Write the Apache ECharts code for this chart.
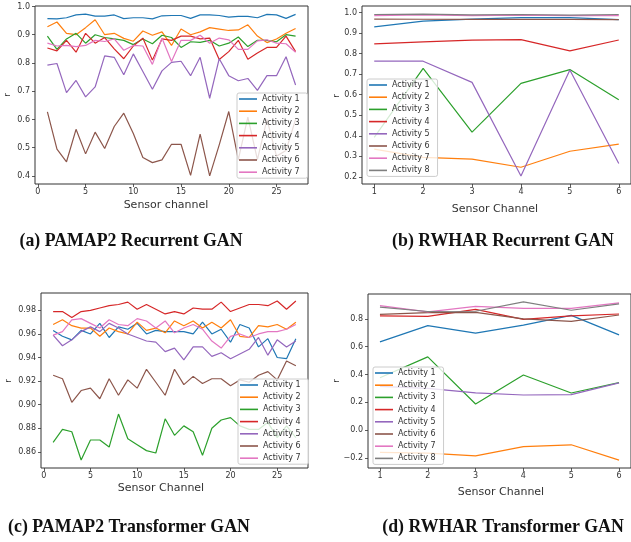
<!DOCTYPE html>
<html>
<head>
<meta charset="utf-8">
<script src="https://cdn.jsdelivr.net/npm/echarts@6/dist/echarts.min.js"></script>
<style>html,body{margin:0;padding:0;background:#fff;}#c{width:631px;height:542px;}</style>
</head>
<body>
<div id="c"></div>
<script>
// ---------- data ----------
const names8 = ['Activity 1','Activity 2','Activity 3','Activity 4','Activity 5','Activity 6','Activity 7','Activity 8'];
const chA = Array.from({length:27},(_,i)=>i+1);
const chB = [1,2,3,4,5,6];

// (a) PAMAP2 Recurrent GAN
const a1 = [0.957,0.956,0.960,0.970,0.973,0.966,0.966,0.970,0.957,0.960,0.960,0.956,0.967,0.968,0.968,0.958,0.970,0.970,0.968,0.962,0.965,0.965,0.960,0.972,0.970,0.958,0.972];
const a2 = [0.928,0.945,0.905,0.900,0.925,0.953,0.900,0.905,0.887,0.877,0.913,0.898,0.910,0.862,0.920,0.900,0.910,0.925,0.920,0.915,0.917,0.935,0.895,0.872,0.885,0.905,0.922];
const a3 = [0.895,0.848,0.885,0.905,0.870,0.900,0.890,0.885,0.880,0.865,0.885,0.868,0.898,0.890,0.855,0.875,0.873,0.880,0.860,0.870,0.892,0.858,0.880,0.880,0.875,0.900,0.895];
const a4 = [0.853,0.843,0.880,0.838,0.905,0.870,0.890,0.850,0.815,0.860,0.888,0.810,0.885,0.880,0.895,0.895,0.885,0.888,0.812,0.840,0.880,0.813,0.835,0.855,0.855,0.895,0.840];
const a5 = [0.792,0.798,0.695,0.738,0.680,0.715,0.825,0.820,0.758,0.832,0.770,0.707,0.772,0.802,0.806,0.755,0.820,0.675,0.815,0.755,0.737,0.745,0.703,0.755,0.755,0.822,0.722];
const a6 = [0.627,0.495,0.450,0.565,0.478,0.555,0.497,0.575,0.622,0.550,0.465,0.447,0.457,0.512,0.512,0.402,0.548,0.400,0.510,0.628,0.458,0.608,0.458,0.600,0.470,0.490,0.600];
const a7 = [0.870,0.860,0.862,0.858,0.862,0.880,0.876,0.885,0.845,0.862,0.860,0.795,0.888,0.805,0.880,0.880,0.898,0.870,0.888,0.882,0.848,0.848,0.878,0.882,0.870,0.868,0.838];

// (b) RWHAR Recurrent GAN
const b1 = [0.930,0.958,0.968,0.975,0.975,0.965];
const b2 = [0.335,0.295,0.287,0.247,0.325,0.360];
const b3 = [0.392,0.728,0.418,0.655,0.722,0.575];
const b4 = [0.847,0.857,0.865,0.868,0.813,0.866];
const b5 = [0.763,0.763,0.660,0.205,0.720,0.265];
const b6 = [0.968,0.967,0.966,0.967,0.966,0.965];
const b7 = [0.985,0.988,0.985,0.987,0.985,0.985];
const b8 = [0.990,0.992,0.988,0.990,0.987,0.990];

// (c) PAMAP2 Transformer GAN
const c1 = [0.963,0.958,0.955,0.963,0.960,0.969,0.957,0.966,0.964,0.969,0.960,0.963,0.962,0.962,0.962,0.960,0.970,0.960,0.964,0.953,0.968,0.965,0.949,0.956,0.940,0.939,0.956];
const c2 = [0.968,0.972,0.967,0.965,0.965,0.958,0.965,0.962,0.960,0.970,0.963,0.965,0.961,0.971,0.967,0.971,0.965,0.970,0.965,0.972,0.958,0.957,0.967,0.966,0.968,0.964,0.970];
const c3 = [0.868,0.879,0.877,0.853,0.870,0.870,0.864,0.892,0.871,0.866,0.861,0.859,0.888,0.874,0.882,0.877,0.857,0.880,0.887,0.889,0.882,0.879,0.879,0.885,0.872,0.882,0.872];
const c4 = [0.979,0.979,0.974,0.979,0.980,0.982,0.984,0.985,0.987,0.981,0.985,0.981,0.977,0.979,0.977,0.982,0.981,0.981,0.987,0.979,0.982,0.985,0.985,0.984,0.988,0.981,0.988];
const c5 = [0.959,0.950,0.955,0.962,0.966,0.962,0.969,0.965,0.960,0.957,0.954,0.953,0.945,0.948,0.938,0.949,0.949,0.941,0.944,0.939,0.943,0.947,0.957,0.942,0.955,0.949,0.954];
const c6 = [0.925,0.922,0.902,0.912,0.914,0.905,0.922,0.908,0.921,0.914,0.930,0.919,0.908,0.930,0.917,0.924,0.918,0.922,0.922,0.916,0.921,0.919,0.925,0.928,0.921,0.937,0.933];
const c7 = [0.959,0.962,0.972,0.973,0.969,0.965,0.972,0.968,0.967,0.973,0.971,0.965,0.971,0.961,0.965,0.968,0.964,0.954,0.948,0.958,0.960,0.957,0.960,0.962,0.962,0.964,0.968];

// (d) RWHAR Transformer GAN
const d1 = [0.635,0.752,0.697,0.755,0.825,0.685];
const d2 = [-0.160,-0.165,-0.185,-0.118,-0.105,-0.215];
const d3 = [0.377,0.527,0.188,0.397,0.267,0.342];
const d4 = [0.822,0.818,0.868,0.797,0.822,0.835];
const d5 = [0.315,0.300,0.268,0.253,0.256,0.340];
const d6 = [0.833,0.845,0.847,0.800,0.782,0.828];
const d7 = [0.895,0.850,0.890,0.875,0.875,0.915];
const d8 = [0.885,0.853,0.855,0.922,0.862,0.908];

// tick labels
const xTicksA = [0,5,10,15,20,25];
const xTicksB = [1,2,3,4,5,6];
const yTicksA = [0.4,0.5,0.6,0.7,0.8,0.9,1.0];
const yTicksB = [0.2,0.3,0.4,0.5,0.6,0.7,0.8,0.9,1.0];
const yTicksC = [0.86,0.88,0.90,0.92,0.94,0.96,0.98];
const yTicksD = [-0.2,0.0,0.2,0.4,0.6,0.8];

const captions = ['(a) PAMAP2 Recurrent GAN','(b) RWHAR Recurrent GAN','(c) PAMAP2 Transformer GAN','(d) RWHAR Transformer GAN'];

// ---------- chart ----------
const colors = ['#1f77b4','#ff7f0e','#2ca02c','#d62728','#9467bd','#8c564b','#e377c2','#7f7f7f'];
const FONT = 'DejaVu Sans';
const TXT = '#333';

const panels = [
  {x: chA, ys: [a1,a2,a3,a4,a5,a6,a7]},
  {x: chB, ys: [b1,b2,b3,b4,b5,b6,b7,b8]},
  {x: chA, ys: [c1,c2,c3,c4,c5,c6,c7]},
  {x: chB, ys: [d1,d2,d3,d4,d5,d6,d7,d8]}
];
function range(arrs){
  let lo=Infinity, hi=-Infinity;
  arrs.forEach(a=>a.forEach(v=>{lo=Math.min(lo,v);hi=Math.max(hi,v);}));
  const m=(hi-lo)*0.05; return [lo-m, hi+m];
}

const grids = [
  {left:35, top:6, width:273, height:178},
  {left:362, top:6, width:273, height:178},
  {left:41, top:293, width:267, height:175},
  {left:368, top:294, width:270, height:174}
].map(g=>Object.assign(g,{show:true, borderColor:'#333', borderWidth:1, backgroundColor:'transparent', containLabel:false}));

const xTicks = [xTicksA, xTicksB, xTicksA, xTicksB];
const yTicks = [yTicksA, yTicksB, yTicksC, yTicksD];
const yFmt = [
  v=>v.toFixed(1), v=>v.toFixed(1), v=>v.toFixed(2),
  v=>(v < -1e-9 ? '\u2212' + Math.abs(v).toFixed(1) : Math.abs(v).toFixed(1))
];

const xAxes = panels.map((p,i)=>{
  const r = range([p.x]);
  return {type:'value', gridIndex:i, min:r[0], max:r[1], position:'bottom',
    axisLine:{show:false, onZero:false}, splitLine:{show:false},
    axisTick:{show:true, inside:false, length:3, customValues:xTicks[i], lineStyle:{color:'#333', width:0.8}},
    axisLabel:{customValues:xTicks[i], margin:4, fontSize:8, color:TXT, fontFamily:FONT, formatter:v=>String(Math.round(v))}};
});
const yAxes = panels.map((p,i)=>{
  const r = range(p.ys);
  return {type:'value', gridIndex:i, min:r[0], max:r[1], position:'left',
    axisLine:{show:false, onZero:false}, splitLine:{show:false},
    axisTick:{show:true, inside:false, length:3, customValues:yTicks[i], lineStyle:{color:'#333', width:0.8}},
    axisLabel:{customValues:yTicks[i], margin:5, fontSize:8, color:TXT, fontFamily:FONT, formatter:yFmt[i]}};
});

const series = [];
panels.forEach((p,i)=>{
  p.ys.forEach((ys,k)=>{
    series.push({type:'line', name:names8[k], xAxisIndex:i, yAxisIndex:i,
      data: ys.map((v,j)=>[p.x[j], v]), symbol:'none', showSymbol:false,
      lineStyle:{color:colors[k], width:1.2}, itemStyle:{color:colors[k]}, z:2});
  });
});

const legendPos = [
  {left:237, top:93, n:7},
  {left:367, top:79, n:8},
  {left:238, top:379, n:7},
  {left:373, top:367, n:8}
];
const legends = legendPos.map(l=>({
  left:l.left, top:l.top, orient:'vertical',
  data: names8.slice(0,l.n).map((nm,k)=>({name:nm, itemStyle:{color:colors[k]}})),
  icon:'rect', itemWidth:18, itemHeight:1.6, itemGap:4.2,
  padding:[2,8,2,2],
  backgroundColor:'rgba(255,255,255,0.8)', borderColor:'#ccc', borderWidth:1, borderRadius:2,
  textStyle:{fontSize:8, lineHeight:8, color:TXT, fontFamily:FONT, padding:[0,0,0,0]},
  selectedMode:false, z:10
}));

function txt(x,y,s,size,opts){
  return Object.assign({type:'text', x:x, y:y, z:20,
    style:{text:s, fontSize:size, fontFamily:FONT, fill:TXT, align:'center', verticalAlign:'middle'}}, opts||{});
}
const graphics = [
  txt(8,95,'r',9,{rotation:Math.PI/2}),
  txt(337,96,'r',9,{rotation:Math.PI/2}),
  txt(9,381,'r',9,{rotation:Math.PI/2}),
  txt(337,381,'r',9,{rotation:Math.PI/2}),
  txt(166,205,'Sensor channel',11),
  txt(495,209,'Sensor Channel',11),
  txt(161,488,'Sensor Channel',11),
  txt(501,492,'Sensor Channel',11)
];
const capPos = [[131,241],[503,241],[129,527],[503,527]];
captions.forEach((c,i)=>{
  graphics.push({type:'text', x:capPos[i][0], y:capPos[i][1], z:20,
    style:{text:c, fontSize:17.8, fontWeight:'bold', fontFamily:'Liberation Serif', fill:'#111', align:'center', verticalAlign:'middle'}});
});

const chart = echarts.init(document.getElementById('c'), null, {renderer:'canvas'});
chart.setOption({
  animation:false,
  backgroundColor:'#fff',
  grid:grids, xAxis:xAxes, yAxis:yAxes,
  legend:legends, series:series, graphic:graphics
});
</script>
</body>
</html>
